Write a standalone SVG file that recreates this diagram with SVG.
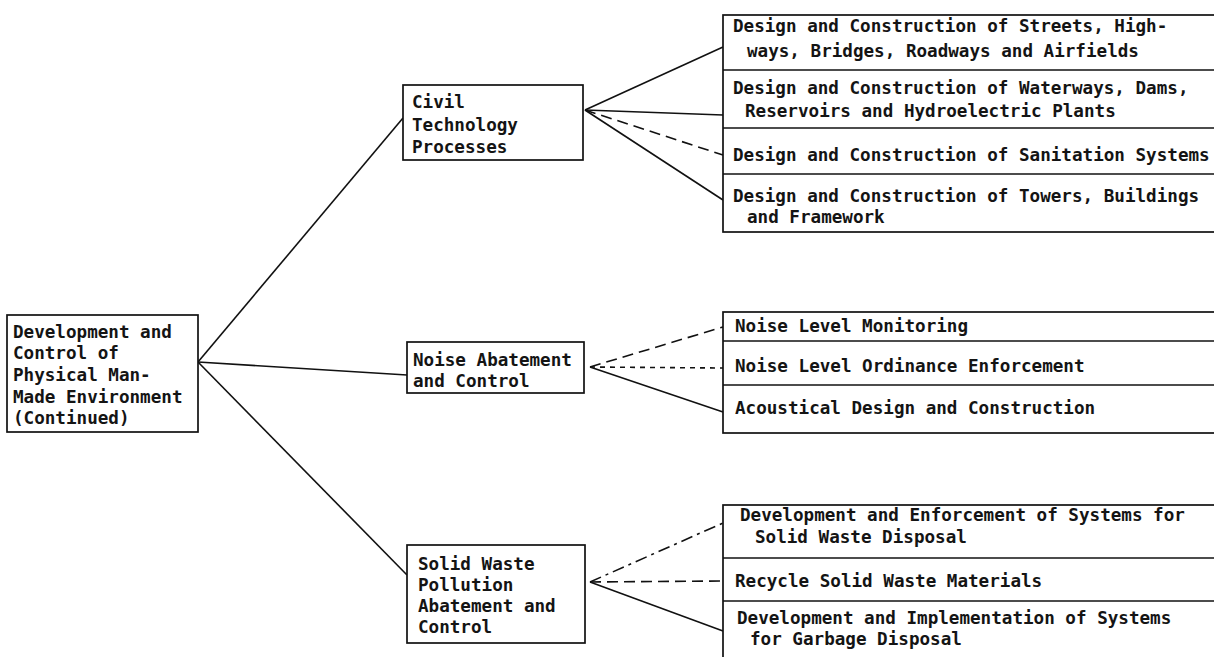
<svg xmlns="http://www.w3.org/2000/svg" width="1214" height="657" viewBox="0 0 1214 657">
  <style>
    .box { fill: #ffffff; stroke: #111111; stroke-width: 1.7; }
    .div { stroke: #111111; stroke-width: 1.6; fill: none; }
    .lbl { font-family: "DejaVu Sans Mono", "Liberation Mono", monospace; font-weight: bold; font-size: 17.6px; fill: #141414; }
    .conn { stroke: #111111; stroke-width: 1.6; fill: none; }
    .dash { stroke-dasharray: 11 6; }
    .dot { stroke-dasharray: 5 5; }
    .dashdot { stroke-dasharray: 12 5 3 5; }
  </style>
  <rect width="1214" height="657" fill="#ffffff"/>

  <!-- connectors -->
  <g id="connectors">
    <!-- root to the three branches -->
    <line class="conn" x1="198" y1="362" x2="403" y2="118"/>
    <line class="conn" x1="198" y1="362" x2="407" y2="375"/>
    <line class="conn" x1="198" y1="362" x2="407" y2="575"/>
    <!-- civil technology to its four items -->
    <line class="conn" x1="585" y1="110" x2="723" y2="47"/>
    <line class="conn" x1="585" y1="110" x2="723" y2="115"/>
    <line class="conn dash" x1="585" y1="110" x2="723" y2="155"/>
    <line class="conn" x1="585" y1="110" x2="723" y2="200"/>
    <!-- noise abatement to its three items -->
    <line class="conn dash" x1="590" y1="367" x2="723" y2="327"/>
    <line class="conn dot" x1="590" y1="367" x2="723" y2="368"/>
    <line class="conn" x1="590" y1="367" x2="723" y2="412"/>
    <!-- solid waste to its three items -->
    <line class="conn dashdot" x1="590" y1="582" x2="723" y2="523"/>
    <line class="conn dash" x1="590" y1="582" x2="723" y2="581"/>
    <line class="conn" x1="590" y1="582" x2="723" y2="631"/>
  </g>

  <!-- root node -->
  <g id="root">
    <rect class="box" x="7" y="315" width="191" height="117"/>
    <text class="lbl" x="13" y="338">Development and</text>
    <text class="lbl" x="13" y="359">Control of</text>
    <text class="lbl" x="13" y="381">Physical Man-</text>
    <text class="lbl" x="13" y="403">Made Environment</text>
    <text class="lbl" x="13" y="424">(Continued)</text>
  </g>

  <!-- branch nodes -->
  <g id="civil">
    <rect class="box" x="403" y="85" width="180" height="75"/>
    <text class="lbl" x="412" y="108">Civil</text>
    <text class="lbl" x="412" y="131">Technology</text>
    <text class="lbl" x="412" y="153">Processes</text>
  </g>

  <g id="noise">
    <rect class="box" x="407" y="342" width="177" height="51"/>
    <text class="lbl" x="413" y="366">Noise Abatement</text>
    <text class="lbl" x="413" y="387">and Control</text>
  </g>

  <g id="solid">
    <rect class="box" x="407" y="545" width="178" height="98"/>
    <text class="lbl" x="418" y="570">Solid Waste</text>
    <text class="lbl" x="418" y="591">Pollution</text>
    <text class="lbl" x="418" y="612">Abatement and</text>
    <text class="lbl" x="418" y="633">Control</text>
  </g>

  <!-- civil technology items -->
  <g id="civil-items">
    <rect class="box" x="723" y="15" width="500" height="217"/>
    <line class="div" x1="723" y1="70" x2="1214" y2="70"/>
    <line class="div" x1="723" y1="128" x2="1214" y2="128"/>
    <line class="div" x1="723" y1="174" x2="1214" y2="174"/>
    <text class="lbl" x="733" y="32">Design and Construction of Streets, High-</text>
    <text class="lbl" x="747" y="57">ways, Bridges, Roadways and Airfields</text>
    <text class="lbl" x="733" y="94">Design and Construction of Waterways, Dams,</text>
    <text class="lbl" x="745" y="117">Reservoirs and Hydroelectric Plants</text>
    <text class="lbl" x="733" y="161">Design and Construction of Sanitation Systems</text>
    <text class="lbl" x="733" y="202">Design and Construction of Towers, Buildings</text>
    <text class="lbl" x="747" y="223">and Framework</text>
  </g>

  <!-- noise abatement items -->
  <g id="noise-items">
    <rect class="box" x="723" y="312" width="500" height="121"/>
    <line class="div" x1="723" y1="341" x2="1214" y2="341"/>
    <line class="div" x1="723" y1="385" x2="1214" y2="385"/>
    <text class="lbl" x="735" y="332">Noise Level Monitoring</text>
    <text class="lbl" x="735" y="372">Noise Level Ordinance Enforcement</text>
    <text class="lbl" x="735" y="414">Acoustical Design and Construction</text>
  </g>

  <!-- solid waste items -->
  <g id="solid-items">
    <rect class="box" x="723" y="505" width="500" height="170"/>
    <line class="div" x1="723" y1="558" x2="1214" y2="558"/>
    <line class="div" x1="723" y1="601" x2="1214" y2="601"/>
    <text class="lbl" x="740" y="521">Development and Enforcement of Systems for</text>
    <text class="lbl" x="755" y="543">Solid Waste Disposal</text>
    <text class="lbl" x="735" y="587">Recycle Solid Waste Materials</text>
    <text class="lbl" x="737" y="624">Development and Implementation of Systems</text>
    <text class="lbl" x="750" y="645">for Garbage Disposal</text>
  </g>
</svg>
